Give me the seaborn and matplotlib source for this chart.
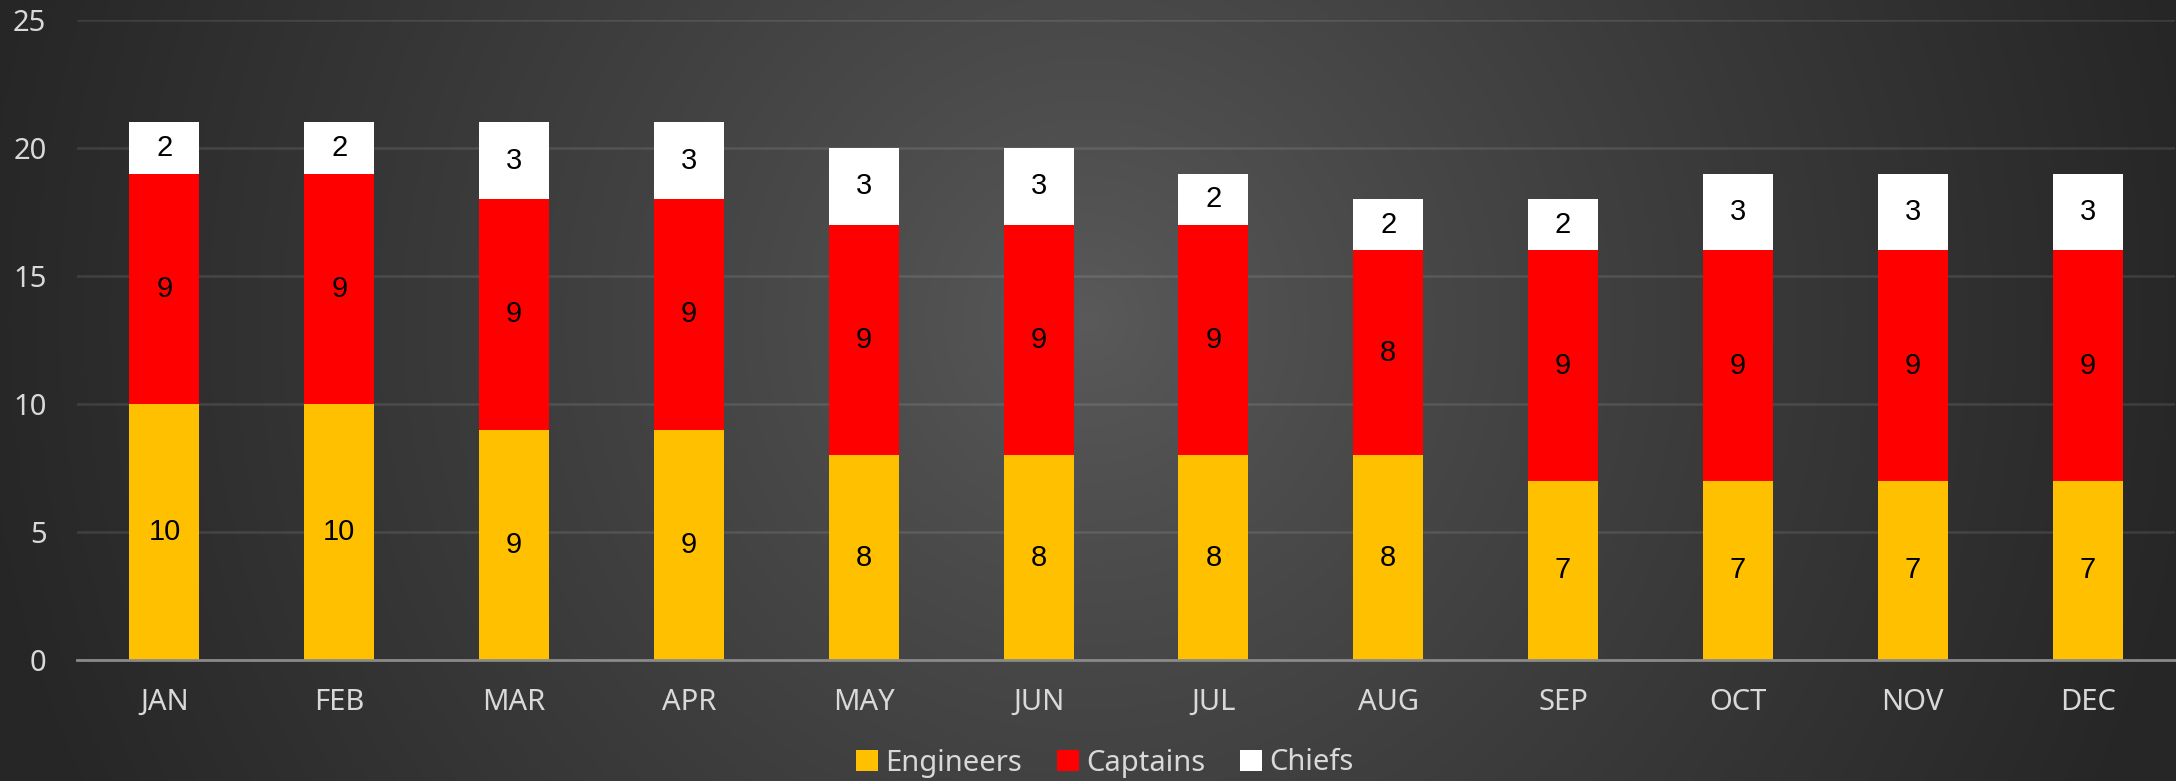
import numpy as np
import matplotlib
matplotlib.use("Agg")
import matplotlib.pyplot as plt
import seaborn as sns
from matplotlib.patches import Patch

months = ["JAN", "FEB", "MAR", "APR", "MAY", "JUN", "JUL", "AUG", "SEP", "OCT", "NOV", "DEC"]
engineers = [10, 10, 9, 9, 8, 8, 8, 8, 7, 7, 7, 7]
captains = [9, 9, 9, 9, 9, 9, 9, 8, 9, 9, 9, 9]
chiefs = [2, 2, 3, 3, 3, 3, 2, 2, 2, 3, 3, 3]
series_names = ["Engineers", "Captains", "Chiefs"]
series_colors = ["#FFC000", "#FF0000", "#FFFFFF"]
y_ticks = [0, 5, 10, 15, 20, 25]

sns.set_theme(style="white")
plt.rcParams['font.family'] = ['Noto Sans', 'DejaVu Sans']

W, H = 2176, 781
fig = plt.figure(figsize=(W / 100, H / 100), dpi=100)

# radial gradient background
bg = fig.add_axes([0, 0, 1, 1], zorder=-10)
yy, xx = np.mgrid[0:H, 0:W]
cx, cy = W / 2, 320
r = np.sqrt((xx - cx) ** 2 + (yy - cy) ** 2)
r = np.clip(r / 1130.0, 0, 1)
c_in, c_out = 0x5a / 255, 0x26 / 255
val = c_in + (c_out - c_in) * r ** 0.85
bg.imshow(np.dstack([val, val, val]), aspect='auto', extent=[0, 1, 0, 1])
bg.axis('off')

ax = fig.add_axes([77 / W, 1 - 660 / H, 2098 / W, 640 / H])
ax.set_facecolor((0, 0, 0, 0))

eng = np.array(engineers)
cap = np.array(captains)
chi = np.array(chiefs)

sns.barplot(x=months, y=engineers, color=series_colors[0], width=0.4, ax=ax,
            saturation=1, linewidth=0, zorder=3)
sns.barplot(x=months, y=captains, bottom=eng, color=series_colors[1], width=0.4, ax=ax,
            saturation=1, linewidth=0, zorder=3)
sns.barplot(x=months, y=chiefs, bottom=eng + cap, color=series_colors[2], width=0.4, ax=ax,
            saturation=1, linewidth=0, zorder=3)

for cont in ax.containers:
    ax.bar_label(cont, label_type='center', fontsize=21, color='black',
                 family=['Liberation Sans', 'DejaVu Sans'])

ax.set_ylim(0, 25)
ax.set_xlim(-0.5, len(months) - 0.5)
ax.set_yticks(y_ticks)
ax.yaxis.grid(True, color='white', alpha=0.1, linewidth=1.8, zorder=0)
ax.set_axisbelow(True)
for s in ['top', 'right', 'left']:
    ax.spines[s].set_visible(False)
ax.spines['bottom'].set_color('#8a8a8a')
ax.spines['bottom'].set_linewidth(2)
ax.spines['bottom'].set_zorder(4)
ax.tick_params(axis='both', length=0, colors='#d9d9d9', labelsize=21)
ax.tick_params(axis='y', pad=22)
ax.tick_params(axis='x', pad=20)
ax.set_xlabel('')
ax.set_ylabel('')

handles = [Patch(facecolor=c, edgecolor='none', label=n) for n, c in zip(series_names, series_colors)]
fig.legend(handles=handles, loc='center', bbox_to_anchor=(1105 / W, 1 - 763 / H), ncol=3,
           frameon=False, fontsize=21, labelcolor='#d9d9d9', handlelength=0.75,
           handleheight=0.75, handletextpad=0.25, columnspacing=1.2)

fig.savefig('out.png', dpi=100)
